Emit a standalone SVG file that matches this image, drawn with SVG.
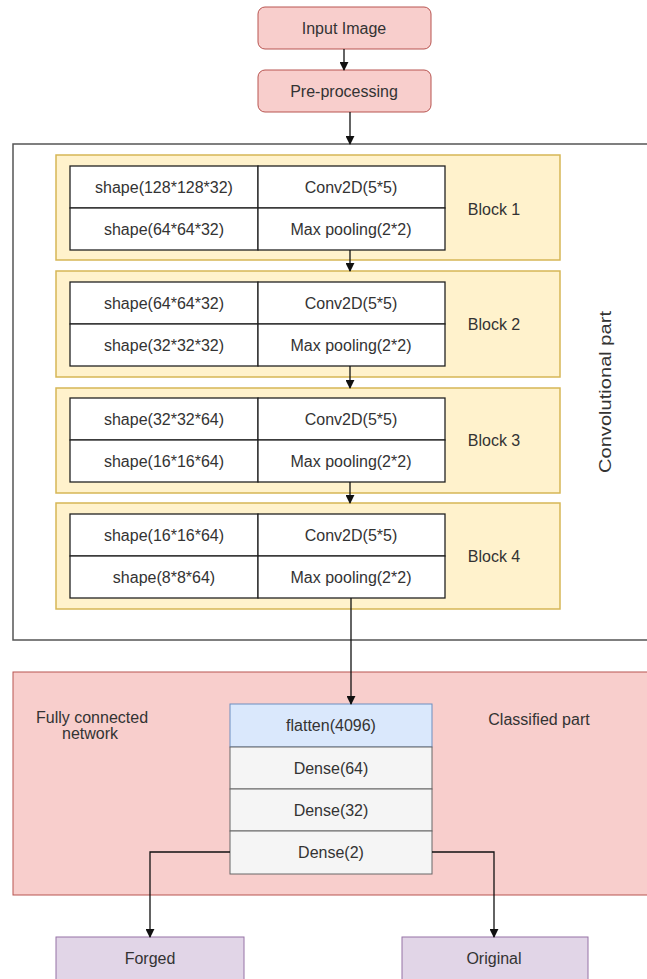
<svg xmlns="http://www.w3.org/2000/svg" width="647" height="979" viewBox="0 0 647 979">
<style>
text{font-family:"Liberation Sans",Arial,sans-serif;font-size:16px;fill:#333;text-anchor:middle;dominant-baseline:central}
.red{fill:#f8cecc;stroke:#b85450;stroke-width:1}
.yel{fill:#fff2cc;stroke:#d6b656;stroke-width:1.5}
.cell{fill:#fff;stroke:#222;stroke-width:1.3}
.blue{fill:#dae8fc;stroke:#6c8ebf;stroke-width:1}
.gray{fill:#f5f5f5;stroke:#666;stroke-width:1}
.pur{fill:#e1d5e7;stroke:#9673a6;stroke-width:1}
.edge{fill:none;stroke:#111;stroke-width:1.3;marker-end:url(#ah)}
</style>
<defs>
<marker id="ah" viewBox="0 0 10 10" refX="9" refY="5" markerWidth="9" markerHeight="9" markerUnits="userSpaceOnUse" orient="auto">
<path d="M0,0 L10,5 L0,10 Z" fill="#111"/>
</marker>
</defs>
<rect width="647" height="979" fill="#fff"/>

<g id="conv-part">
<rect x="13" y="144" width="640" height="496" fill="#fff" stroke="#555" stroke-width="1.5"/>
<text x="605" y="392" transform="rotate(-90 605 392)" font-size="24" textLength="162" lengthAdjust="spacingAndGlyphs">Convolutional part</text>
</g>

<g id="class-part">
<rect x="13" y="672" width="640" height="223" class="red"/>
<text x="92" y="717">Fully connected</text>
<text x="90" y="733">network</text>
<text x="539" y="719">Classified part</text>
</g>

<g id="input">
<rect x="258" y="7" width="173" height="42" rx="7" class="red"/>
<text x="344" y="28">Input Image</text>
</g>
<g id="preproc">
<rect x="258" y="70" width="173" height="42" rx="7" class="red"/>
<text x="344" y="91">Pre-processing</text>
</g>

<g id="block1">
<rect x="56" y="155" width="504" height="105" class="yel"/>
<rect x="70" y="166" width="188" height="42" class="cell"/>
<rect x="258" y="166" width="187" height="42" class="cell"/>
<rect x="70" y="208" width="188" height="42" class="cell"/>
<rect x="258" y="208" width="187" height="42" class="cell"/>
<text x="164" y="187">shape(128*128*32)</text>
<text x="351" y="187">Conv2D(5*5)</text>
<text x="164" y="229">shape(64*64*32)</text>
<text x="351" y="229">Max pooling(2*2)</text>
<text x="494" y="209">Block 1</text>
</g>
<g id="block2">
<rect x="56" y="271" width="504" height="106" class="yel"/>
<rect x="70" y="282" width="188" height="42" class="cell"/>
<rect x="258" y="282" width="187" height="42" class="cell"/>
<rect x="70" y="324" width="188" height="42" class="cell"/>
<rect x="258" y="324" width="187" height="42" class="cell"/>
<text x="164" y="303">shape(64*64*32)</text>
<text x="351" y="303">Conv2D(5*5)</text>
<text x="164" y="345">shape(32*32*32)</text>
<text x="351" y="345">Max pooling(2*2)</text>
<text x="494" y="324">Block 2</text>
</g>
<g id="block3">
<rect x="56" y="388" width="504" height="105" class="yel"/>
<rect x="70" y="398" width="188" height="42" class="cell"/>
<rect x="258" y="398" width="187" height="42" class="cell"/>
<rect x="70" y="440" width="188" height="42" class="cell"/>
<rect x="258" y="440" width="187" height="42" class="cell"/>
<text x="164" y="419">shape(32*32*64)</text>
<text x="351" y="419">Conv2D(5*5)</text>
<text x="164" y="461">shape(16*16*64)</text>
<text x="351" y="461">Max pooling(2*2)</text>
<text x="494" y="440">Block 3</text>
</g>
<g id="block4">
<rect x="56" y="503" width="504" height="106" class="yel"/>
<rect x="70" y="514" width="188" height="42" class="cell"/>
<rect x="258" y="514" width="187" height="42" class="cell"/>
<rect x="70" y="556" width="188" height="42" class="cell"/>
<rect x="258" y="556" width="187" height="42" class="cell"/>
<text x="164" y="535">shape(16*16*64)</text>
<text x="351" y="535">Conv2D(5*5)</text>
<text x="164" y="577">shape(8*8*64)</text>
<text x="351" y="577">Max pooling(2*2)</text>
<text x="494" y="556">Block 4</text>
</g>

<g id="dense-stack">
<rect x="230" y="704" width="202" height="43" class="blue"/>
<text x="331" y="725">flatten(4096)</text>
<rect x="230" y="747" width="202" height="42" class="gray"/>
<text x="331" y="768">Dense(64)</text>
<rect x="230" y="789" width="202" height="42" class="gray"/>
<text x="331" y="810">Dense(32)</text>
<rect x="230" y="831" width="202" height="43" class="gray"/>
<text x="331" y="852">Dense(2)</text>
</g>

<g id="forged">
<rect x="56" y="937" width="188" height="50" class="pur"/>
<text x="150" y="958">Forged</text>
</g>
<g id="original">
<rect x="402" y="937" width="186" height="50" class="pur"/>
<text x="494" y="958">Original</text>
</g>

<g id="connectors">
<path class="edge" d="M344,49 L344,70"/>
<path class="edge" d="M350,112 L350,144"/>
<path class="edge" d="M350,250 L350,271"/>
<path class="edge" d="M350,366 L350,388"/>
<path class="edge" d="M350,482 L350,503"/>
<path class="edge" d="M351,598 L351,704"/>
<path class="edge" d="M230,852 L150,852 L150,937"/>
<path class="edge" d="M432,852 L494,852 L494,937"/>
</g>
</svg>
